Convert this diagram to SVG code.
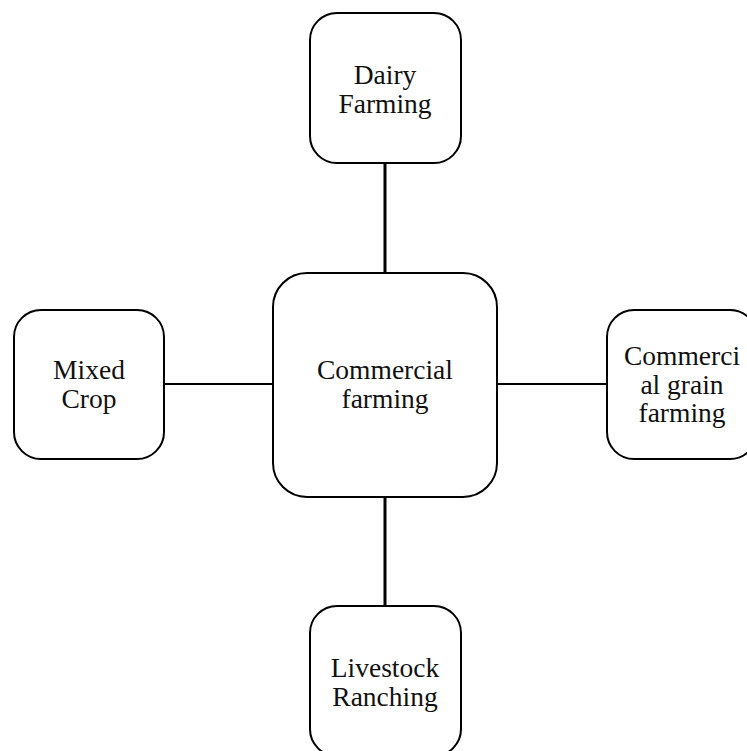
<svg xmlns="http://www.w3.org/2000/svg" width="747" height="751" viewBox="0 0 747 751">
  <style>
    .box { fill: #ffffff; stroke: #000000; stroke-width: 2; }
    .link { stroke: #000000; stroke-width: 3; fill: none; }
    .label { font-family: "Liberation Serif", "Times New Roman", serif; font-size: 27.5px; fill: #111111; text-anchor: middle; }
  </style>
  <rect width="747" height="751" fill="#ffffff"/>
  <g id="connectors">
    <line class="link" x1="385" y1="163" x2="385" y2="273"/>
    <line class="link" x1="385" y1="497" x2="385" y2="607"/>
    <line class="link" x1="164" y1="384" x2="273" y2="384" style="stroke-width:2"/>
    <line class="link" x1="497" y1="384" x2="607" y2="384" style="stroke-width:2"/>
  </g>
  <g id="commercial-farming">
    <rect class="box" x="273" y="273" width="224" height="224" rx="34" ry="34"/>
    <text class="label" x="385" y="379">Commercial</text>
    <text class="label" x="385" y="408">farming</text>
  </g>
  <g id="dairy-farming">
    <rect class="box" x="310" y="13" width="151" height="150" rx="27" ry="27"/>
    <text class="label" x="385" y="84">Dairy</text>
    <text class="label" x="385" y="113">Farming</text>
  </g>
  <g id="mixed-crop">
    <rect class="box" x="14" y="310" width="150" height="149" rx="27" ry="27"/>
    <text class="label" x="89" y="379">Mixed</text>
    <text class="label" x="89" y="408">Crop</text>
  </g>
  <g id="commercial-grain-farming">
    <rect class="box" x="607" y="310" width="150" height="149" rx="27" ry="27"/>
    <text class="label" x="682" y="365">Commerci</text>
    <text class="label" x="682" y="394">al grain</text>
    <text class="label" x="682" y="422">farming</text>
  </g>
  <g id="livestock-ranching">
    <rect class="box" x="310" y="606" width="151" height="150" rx="27" ry="27"/>
    <text class="label" x="385" y="677">Livestock</text>
    <text class="label" x="385" y="706">Ranching</text>
  </g>
</svg>
